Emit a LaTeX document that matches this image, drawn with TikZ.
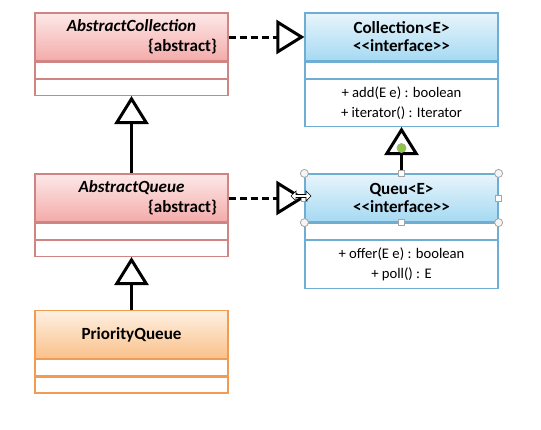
\documentclass[tikz,border=0pt]{standalone}
\usepackage{fontspec}
\setmainfont{Carlito}[Ligatures=TeXOff]
\usetikzlibrary{arrows.meta,positioning}

\definecolor{redtop}{HTML}{FDE8E8}
\definecolor{redbot}{HTML}{F3ABA9}
\definecolor{redline}{HTML}{CF8583}
\definecolor{bluetop}{HTML}{E8F5FC}
\definecolor{bluebot}{HTML}{A5D9F2}
\definecolor{blueline}{HTML}{6EAED3}
\definecolor{orgtop}{HTML}{FEF0E2}
\definecolor{orgbot}{HTML}{FAC08A}
\definecolor{orgline}{HTML}{F09C55}
\definecolor{gripgreen}{HTML}{8DC63F}

\begin{document}
\begin{tikzpicture}[
        x=0.75pt, y=-0.75pt,
        >={Triangle[open,length=21pt,width=25.5pt]},
        box/.style={
            rectangle,
            draw=#1,
            line width=0.9pt,
            fill=white,
            minimum width=144.75pt,
            inner sep=0pt
        },
        head/.style n args={3}{
            box=#1,
            top color=#2,
            bottom color=#3,
            minimum height=36pt,
            text width=128.25pt,
            inner xsep=8.25pt,
            align=center,
            font=\fontsize{12.8}{15}\selectfont\bfseries
        },
        row/.style={
            box=#1,
            minimum height=12pt,
            align=center,
            font=\fontsize{11}{15}\selectfont
        },
        gen/.style={
            ->,
            line width=2.25pt,
            draw=black
        },
        real/.style={
            gen,
            dash pattern=on 5.25pt off 3pt
        },
        grip/.style={
            circle,
            draw=gray!70,
            fill=gray!8,
            line width=0.6pt,
            minimum size=6pt,
            inner sep=0pt
        },
        gripsq/.style={
            rectangle,
            draw=gray!70,
            fill=white,
            line width=0.6pt,
            minimum size=4.5pt,
            inner sep=0pt
        }
    ]

    \useasboundingbox (0,0) rectangle (541,429);

    % left column
    \node[head={redline}{redtop}{redbot}] (acoll) at (131.5,37)
        {\textit{AbstractCollection}\\\hfill\{abstract\}};
    \node[row=redline, below=0pt of acoll] (acoll-a) {};
    \node[row=redline, below=0pt of acoll-a] (acoll-m) {};

    \node[head={redline}{redtop}{redbot}] (aqueue) at (131.5,198)
        {\textit{AbstractQueue}\\\hfill\{abstract\}};
    \node[row=redline, below=0pt of aqueue] (aqueue-a) {};
    \node[row=redline, below=0pt of aqueue-a] (aqueue-m) {};

    \node[head={orgline}{orgtop}{orgbot}] (pqueue) at (131.5,334.5) {PriorityQueue};
    \node[row=orgline, below=0pt of pqueue] (pqueue-a) {};
    \node[row=orgline, below=0pt of pqueue-a] (pqueue-m) {};

    % right column
    \node[head={blueline}{bluetop}{bluebot}, font=\fontsize{12.8}{13.5}\selectfont\bfseries] (coll) at (401.5,37)
        {Collection<E>\\<<interface>>};
    \node[row=blueline, below=0pt of coll] (coll-a) {};
    \node[row=blueline, below=0pt of coll-a, minimum height=35.25pt] (coll-m)
        {+ add(E e) : boolean\\+ iterator() : Iterator};

    \node[head={blueline}{bluetop}{bluebot}, font=\fontsize{12.8}{13.5}\selectfont\bfseries] (queu) at (401.5,198)
        {Queu<E>\\<<interface>>};
    \node[row=blueline, below=0pt of queu] (queu-a) {};
    \node[row=blueline, below=0pt of queu-a, minimum height=36pt] (queu-m)
        {+ offer(E e) : boolean\\+ poll() : E};

    % generalisation
    \draw[gen] (aqueue.north) -- (acoll-m.south);
    \draw[gen] (pqueue.north) -- (aqueue-m.south);
    \draw[gen] (queu.north) -- (coll-m.south);

    % realisation
    \draw[real] (acoll.east) -- (coll.west);
    \draw[real] (aqueue.east) -- (queu.west);

    % selection grips
    \foreach \a in {north west,north east,south west,south east} {
        \node[grip] (g-\a) at (queu.\a) {};
    }
    \foreach \a in {north,east,south,west} {
        \node[gripsq] (s-\a) at (queu.\a) {};
    }
    \node[grip, fill=gripgreen, minimum size=6.75pt] (rot) at (401.5,148) {};

    \draw[line width=0.5pt, fill=white]
        (291,196) -- (296,191) -- (296,194.5) -- (306,194.5) -- (306,191) -- (311,196)
        -- (306,201) -- (306,197.5) -- (296,197.5) -- (296,201) -- cycle;

\end{tikzpicture}
\end{document}
